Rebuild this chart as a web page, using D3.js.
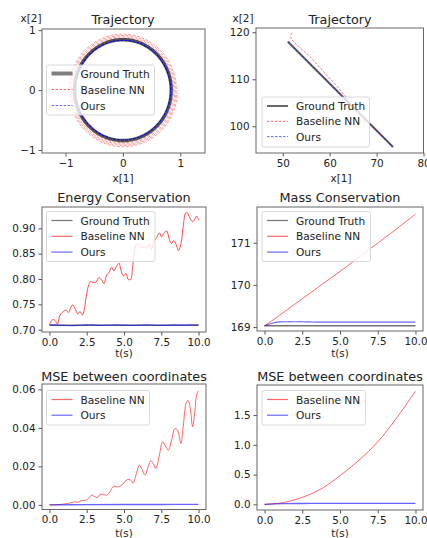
<!DOCTYPE html>
<html>
<head>
<meta charset="utf-8">
<script src="https://cdn.jsdelivr.net/npm/d3@7/dist/d3.min.js"></script>
<style>
  html, body { margin: 0; padding: 0; background: #fff; }
  svg { display: block; font-family: "DejaVu Sans", sans-serif; }
</style>
</head>
<body>
<svg id="chart" width="427" height="538"></svg>
<script>
// ---------------- DATA ----------------
const legendLabels = ["Ground Truth", "Baseline NN", "Ours"];

// Panel 1: circular trajectory (polar description: radius per lap)
const circleGroundTruthRadius = 0.842;
const circleOursRadius = 0.832;
const circleBaselineLapRadii = [0.86, 0.883, 0.906, 0.929, 0.952];

// Panel 2: linear trajectory points [x1, x2]
const lineGroundTruth = [[51.1, 118.0], [73.5, 95.6]];
const lineBaseline = [[52.0, 119.9], [51.7, 119.2], [51.9, 118.5], [52.6, 117.7], [54.0, 116.4],
  [56.0, 114.6], [58.0, 112.4], [60.0, 110.2], [62.0, 108.0], [64.0, 105.7], [66.0, 103.5],
  [68.0, 101.3], [70.0, 99.1], [72.0, 97.1], [73.5, 95.6]];
const lineOurs = [[51.1, 118.0], [56.0, 113.1], [62.0, 107.1], [68.0, 101.1], [73.5, 95.6]];

// Panel 3: energy
const energyT = [0, 0.22, 0.38, 0.54, 0.71, 0.94, 1.12, 1.27, 1.45, 1.56, 1.72, 1.90, 2.05, 2.21, 2.32,
  2.46, 2.61, 2.77, 2.95, 3.13, 3.30, 3.50, 3.66, 3.84, 4.02, 4.17, 4.33, 4.51, 4.67, 4.78, 4.96, 5.13,
  5.29, 5.45, 5.58, 5.74, 5.89, 6.03, 6.18, 6.34, 6.52, 6.67, 6.85, 7.01, 7.19, 7.37, 7.52, 7.68, 7.86,
  8.04, 8.19, 8.35, 8.53, 8.66, 8.82, 8.97, 9.13, 9.24, 9.42, 9.60, 9.75, 9.87, 10.0];
const energyBaseline = [0.711, 0.720, 0.718, 0.711, 0.729, 0.736, 0.739, 0.734, 0.745, 0.749, 0.742,
  0.731, 0.736, 0.729, 0.738, 0.764, 0.786, 0.795, 0.793, 0.794, 0.803, 0.798, 0.791, 0.808, 0.814,
  0.823, 0.816, 0.826, 0.831, 0.819, 0.806, 0.811, 0.799, 0.799, 0.824, 0.861, 0.870, 0.867, 0.861,
  0.864, 0.861, 0.868, 0.859, 0.874, 0.882, 0.891, 0.883, 0.890, 0.895, 0.878, 0.870, 0.876, 0.865,
  0.856, 0.870, 0.903, 0.930, 0.931, 0.920, 0.913, 0.918, 0.924, 0.916];
const energyT2 = [0, 0.5, 1, 1.5, 2, 2.5, 3, 3.5, 4, 4.5, 5, 5.5, 6, 6.5, 7, 7.5, 8, 8.5, 9, 9.5, 10];
const energyGroundTruth = [0.7088, 0.7088, 0.7088, 0.7088, 0.7088, 0.7088, 0.7088, 0.7088, 0.7088, 0.7088,
  0.7088, 0.7088, 0.7088, 0.7088, 0.7088, 0.7088, 0.7088, 0.7088, 0.7088, 0.7088, 0.7088];
const energyOurs = [0.7100, 0.7092, 0.7085, 0.7080, 0.7088, 0.7097, 0.7093, 0.7085, 0.7090, 0.7096,
  0.7089, 0.7084, 0.7091, 0.7097, 0.7090, 0.7084, 0.7090, 0.7096, 0.7089, 0.7095, 0.7090];

// Panel 4: mass
const massT = [0, 0.5, 1, 1.5, 2, 2.5, 3, 3.5, 4, 4.5, 5, 5.5, 6, 6.5, 7, 7.5, 8, 8.5, 9, 9.5, 10];
const massGroundTruth = [169.03, 169.03, 169.03, 169.03, 169.03, 169.03, 169.03, 169.03, 169.03, 169.03,
  169.03, 169.03, 169.03, 169.03, 169.03, 169.03, 169.03, 169.03, 169.03, 169.03, 169.03];
const massBaseline = [169.03, 169.15, 169.28, 169.41, 169.54, 169.67, 169.80, 169.93, 170.06, 170.19,
  170.32, 170.45, 170.59, 170.72, 170.86, 170.99, 171.13, 171.26, 171.40, 171.54, 171.68];
const massOurs = [169.03, 169.09, 169.12, 169.125, 169.125, 169.125, 169.12, 169.115, 169.115, 169.115,
  169.115, 169.115, 169.115, 169.115, 169.115, 169.115, 169.115, 169.115, 169.115, 169.115, 169.115];

// Panel 5: MSE (trajectory 1)
const mse1T = [0, 0.5, 1.05, 1.38, 1.72, 1.94, 2.17, 2.46, 2.61, 2.83, 3.06, 3.21, 3.39, 3.62, 3.84,
  4.06, 4.29, 4.51, 4.73, 5.0, 5.22, 5.45, 5.62, 5.80, 6.03, 6.18, 6.41, 6.63, 6.79, 6.96, 7.14, 7.37,
  7.59, 7.75, 7.97, 8.19, 8.42, 8.59, 8.82, 8.97, 9.20, 9.31, 9.46, 9.60, 9.75, 9.87, 10.0];
const mse1Baseline = [0, 0.0001, 0.0005, 0.0010, 0.0016, 0.0014, 0.0023, 0.0024, 0.0033, 0.0050,
  0.0042, 0.0038, 0.0054, 0.0055, 0.0050, 0.0068, 0.0097, 0.0094, 0.0097, 0.0114, 0.0132, 0.0128,
  0.0114, 0.0154, 0.0206, 0.0189, 0.0154, 0.0201, 0.0229, 0.0215, 0.0189, 0.0258, 0.0328, 0.0310,
  0.0284, 0.0336, 0.0397, 0.0388, 0.0319, 0.0406, 0.0536, 0.0541, 0.0492, 0.0406, 0.0484, 0.0570, 0.0593];
const mse1OursT = [0, 2.5, 5, 7.5, 10];
const mse1Ours = [0.0000, 0.0001, 0.0002, 0.0002, 0.0003];

// Panel 6: MSE (trajectory 2)
const mse2T = [0, 1.25, 2.5, 3.75, 5, 6.25, 7.5, 8.75, 10];
const mse2Baseline = [0, 0.03, 0.117, 0.26, 0.48, 0.74, 1.05, 1.45, 1.90];
const mse2Ours = [0, 0.012, 0.014, 0.015, 0.015, 0.015, 0.015, 0.015, 0.015];

const timeTicks = [0, 2.5, 5, 7.5, 10];

// ---------------- STYLE ----------------
const RED = "rgba(255,0,0,0.6)";
const BLUE = "rgba(0,0,255,0.6)";
const GT = "rgba(0,0,0,0.55)";
const TICK_FS = "10.4px", LEGEND_FS = "10.6px", TITLE_FS = "12.8px", LABEL_FS = "10.4px";

const svg = d3.select("#chart");

function panel(cfg) {
  const g = svg.append("g");
  const x = d3.scaleLinear().domain(cfg.xDomain).range([cfg.box[0], cfg.box[1]]);
  const y = d3.scaleLinear().domain(cfg.yDomain).range([cfg.box[3], cfg.box[2]]);
  const clipId = "clip" + Math.random().toString(36).slice(2);
  g.append("clipPath").attr("id", clipId).append("rect")
    .attr("x", cfg.box[0]).attr("y", cfg.box[2])
    .attr("width", cfg.box[1] - cfg.box[0]).attr("height", cfg.box[3] - cfg.box[2]);

  const plot = g.append("g").attr("clip-path", `url(#${clipId})`);
  cfg.draw(plot, x, y);

  // axes
  const xAxis = d3.axisBottom(x).tickValues(cfg.xTicks).tickFormat(cfg.xFormat).tickSizeOuter(0).tickSize(3.5).tickPadding(3);
  const yAxis = d3.axisLeft(y).tickValues(cfg.yTicks).tickFormat(cfg.yFormat).tickSizeOuter(0).tickSize(3.5).tickPadding(3);
  const gx = g.append("g").attr("transform", `translate(0,${cfg.box[3]})`).call(xAxis);
  const gy = g.append("g").attr("transform", `translate(${cfg.box[0]},0)`).call(yAxis);
  [gx, gy].forEach(a => {
    a.select(".domain").remove();
    a.selectAll("line").attr("stroke", "#555");
    a.selectAll("text").attr("fill", "#222").style("font-size", TICK_FS).style("font-family", "DejaVu Sans");
  });
  // frame
  g.append("rect").attr("x", cfg.box[0]).attr("y", cfg.box[2])
    .attr("width", cfg.box[1] - cfg.box[0]).attr("height", cfg.box[3] - cfg.box[2])
    .attr("fill", "none").attr("stroke", "#666").attr("stroke-width", 1);

  // title
  g.append("text").attr("x", cfg.titleX).attr("y", cfg.titleY).attr("text-anchor", "middle")
    .attr("dominant-baseline", "central").style("font-size", TITLE_FS).attr("fill", "#222").text(cfg.title);

  // axis labels
  (cfg.labels || []).forEach(l => {
    g.append("text").attr("x", l.x).attr("y", l.y).attr("text-anchor", "middle")
      .attr("dominant-baseline", "central").style("font-size", LABEL_FS).attr("fill", "#222").text(l.text);
  });

  // legend
  const L = cfg.legend;
  const lg = g.append("g");
  lg.append("rect").attr("x", L.x).attr("y", L.y).attr("width", L.w).attr("height", L.h)
    .attr("rx", 2).attr("fill", "rgba(255,255,255,0.8)").attr("stroke", "#cfcfcf").attr("stroke-width", 0.8);
  L.items.forEach((it, i) => {
    const yy = L.y + L.first + i * L.step;
    lg.append("line").attr("x1", L.x + 5).attr("x2", L.x + 26).attr("y1", yy).attr("y2", yy)
      .attr("stroke", it.color).attr("stroke-width", it.width).attr("stroke-dasharray", it.dash || null);
    lg.append("text").attr("x", L.x + 34).attr("y", yy).attr("dominant-baseline", "central")
      .style("font-size", LEGEND_FS).attr("fill", "#222").text(it.label);
  });
}

const lineGen = (x, y) => d3.line().x(d => x(d[0])).y(d => y(d[1])).curve(d3.curveCatmullRom);
const zip = (a, b) => a.map((v, i) => [v, b[i]]);

// ---------- Panel 1 ----------
panel({
  box: [42, 205, 29, 153],
  xDomain: [-1.41, 1.43], yDomain: [-1.05, 1.02],
  xTicks: [-1, 0, 1], yTicks: [-1, 0, 1],
  xFormat: d => d < 0 ? "\u2212" + Math.abs(d) : d, yFormat: d => d < 0 ? "\u2212" + Math.abs(d) : d,
  title: "Trajectory", titleX: 123, titleY: 19,
  labels: [{ text: "x[2]", x: 31, y: 18 }, { text: "x[1]", x: 123, y: 178 }],
  draw: (p, x, y) => {
    const ring = r => d3.range(0, 361, 3).map(a => [r * Math.cos(a * Math.PI / 180), r * Math.sin(a * Math.PI / 180)]);
    // baseline spiral through lap radii
    const spiral = [];
    for (let k = 0; k < circleBaselineLapRadii.length - 1; k++) {
      const r0 = circleBaselineLapRadii[k], r1 = circleBaselineLapRadii[k + 1];
      for (let a = 0; a < 360; a += 3) {
        const r = r0 + (r1 - r0) * a / 360;
        spiral.push([r * Math.cos(a * Math.PI / 180), r * Math.sin(a * Math.PI / 180)]);
      }
    }
    const lin = d3.line().x(d => x(d[0])).y(d => y(d[1]));
    p.append("path").attr("d", lin(spiral)).attr("fill", "none").attr("stroke", "rgba(255,0,0,0.5)")
      .attr("stroke-width", 0.8).attr("stroke-dasharray", "3,1.5");
    p.append("path").attr("d", lin(ring(circleGroundTruthRadius))).attr("fill", "none")
      .attr("stroke", "rgba(20,20,20,0.72)").attr("stroke-width", 3.4);
    p.append("path").attr("d", lin(ring(circleOursRadius))).attr("fill", "none").attr("stroke", "rgba(0,0,255,0.85)")
      .attr("stroke-width", 1.1).attr("stroke-dasharray", "3,1");
  },
  legend: { x: 46.5, y: 65, w: 108, h: 50, first: 8.5, step: 16,
    items: [
      { label: legendLabels[0], color: "rgba(0,0,0,0.5)", width: 4 },
      { label: legendLabels[1], color: RED, width: 1, dash: "2.5,1.5" },
      { label: legendLabels[2], color: BLUE, width: 1, dash: "2.5,1.5" }] }
});

// ---------- Panel 2 ----------
panel({
  box: [256, 423.5, 28, 153],
  xDomain: [44.3, 80.0], yDomain: [94.32, 120.91],
  xTicks: [50, 60, 70, 80], yTicks: [100, 110, 120],
  xFormat: d3.format("d"), yFormat: d3.format("d"),
  title: "Trajectory", titleX: 340, titleY: 19,
  labels: [{ text: "x[2]", x: 243, y: 18 }, { text: "x[1]", x: 341, y: 178 }],
  draw: (p, x, y) => {
    const lin = d3.line().x(d => x(d[0])).y(d => y(d[1]));
    p.append("path").attr("d", lin(lineGroundTruth)).attr("fill", "none").attr("stroke", "rgba(0,0,0,0.6)").attr("stroke-width", 2.2);
    p.append("path").attr("d", lineGen(x, y)(lineBaseline)).attr("fill", "none").attr("stroke", RED)
      .attr("stroke-width", 0.9).attr("stroke-dasharray", "2.5,1.5");
    p.append("path").attr("d", lin(lineOurs)).attr("fill", "none").attr("stroke", "rgba(0,0,255,0.7)")
      .attr("stroke-width", 1).attr("stroke-dasharray", "2.5,1.5");
  },
  legend: { x: 262, y: 97, w: 107.5, h: 50, first: 9, step: 15.3,
    items: [
      { label: legendLabels[0], color: "rgba(0,0,0,0.6)", width: 2 },
      { label: legendLabels[1], color: RED, width: 1, dash: "2.5,1.5" },
      { label: legendLabels[2], color: BLUE, width: 1, dash: "2.5,1.5" }] }
});

// ---------- Panel 3 ----------
panel({
  box: [42, 206, 207, 332],
  xDomain: [-0.5, 10.5], yDomain: [0.6955, 0.942],
  xTicks: timeTicks, yTicks: [0.70, 0.75, 0.80, 0.85, 0.90],
  xFormat: d3.format(".1f"), yFormat: d3.format(".2f"),
  title: "Energy Conservation", titleX: 124, titleY: 197,
  labels: [{ text: "t(s)", x: 124, y: 353 }],
  draw: (p, x, y) => {
    p.append("path").attr("d", lineGen(x, y)(zip(energyT2, energyGroundTruth))).attr("fill", "none").attr("stroke", GT).attr("stroke-width", 1.5);
    p.append("path").attr("d", lineGen(x, y)(zip(energyT, energyBaseline))).attr("fill", "none").attr("stroke", "rgba(255,0,0,0.7)").attr("stroke-width", 1);
    p.append("path").attr("d", lineGen(x, y)(zip(energyT2, energyOurs))).attr("fill", "none").attr("stroke", BLUE).attr("stroke-width", 1.2);
  },
  legend: { x: 46.5, y: 211.5, w: 108.5, h: 50, first: 9, step: 15.8,
    items: [
      { label: legendLabels[0], color: GT, width: 1.2 },
      { label: legendLabels[1], color: RED, width: 1.2 },
      { label: legendLabels[2], color: BLUE, width: 1.2 }] }
});

// ---------- Panel 4 ----------
panel({
  box: [257, 423, 207, 331],
  xDomain: [-0.5, 10.5], yDomain: [168.905, 171.85],
  xTicks: timeTicks, yTicks: [169, 170, 171],
  xFormat: d3.format(".1f"), yFormat: d3.format("d"),
  title: "Mass Conservation", titleX: 340, titleY: 197,
  labels: [{ text: "t(s)", x: 340, y: 353 }],
  draw: (p, x, y) => {
    p.append("path").attr("d", lineGen(x, y)(zip(massT, massGroundTruth))).attr("fill", "none").attr("stroke", GT).attr("stroke-width", 1.3);
    p.append("path").attr("d", lineGen(x, y)(zip(massT, massBaseline))).attr("fill", "none").attr("stroke", RED).attr("stroke-width", 1);
    p.append("path").attr("d", lineGen(x, y)(zip(massT, massOurs))).attr("fill", "none").attr("stroke", BLUE).attr("stroke-width", 1.2);
  },
  legend: { x: 262, y: 211.5, w: 108.5, h: 50, first: 9, step: 15.8,
    items: [
      { label: legendLabels[0], color: GT, width: 1.2 },
      { label: legendLabels[1], color: RED, width: 1.2 },
      { label: legendLabels[2], color: BLUE, width: 1.2 }] }
});

// ---------- Panel 5 ----------
panel({
  box: [42, 206, 384, 509.5],
  xDomain: [-0.5, 10.5], yDomain: [-0.0024, 0.0628],
  xTicks: timeTicks, yTicks: [0, 0.02, 0.04, 0.06],
  xFormat: d3.format(".1f"), yFormat: d3.format(".2f"),
  title: "MSE between coordinates", titleX: 124, titleY: 376,
  labels: [{ text: "t(s)", x: 124, y: 533 }],
  draw: (p, x, y) => {
    p.append("path").attr("d", lineGen(x, y)(zip(mse1T, mse1Baseline))).attr("fill", "none").attr("stroke", RED).attr("stroke-width", 1);
    p.append("path").attr("d", lineGen(x, y)(zip(mse1OursT, mse1Ours))).attr("fill", "none").attr("stroke", BLUE).attr("stroke-width", 1.3);
  },
  legend: { x: 46.5, y: 390.5, w: 103, h: 34.5, first: 9, step: 15.7,
    items: [
      { label: legendLabels[1], color: RED, width: 1.2 },
      { label: legendLabels[2], color: BLUE, width: 1.2 }] }
});

// ---------- Panel 6 ----------
panel({
  box: [257, 423, 385, 510],
  xDomain: [-0.5, 10.5], yDomain: [-0.095, 2.005],
  xTicks: timeTicks, yTicks: [0, 0.5, 1.0, 1.5],
  xFormat: d3.format(".1f"), yFormat: d3.format(".1f"),
  title: "MSE between coordinates", titleX: 340, titleY: 376,
  labels: [{ text: "t(s)", x: 340, y: 533 }],
  draw: (p, x, y) => {
    p.append("path").attr("d", lineGen(x, y)(zip(mse2T, mse2Baseline))).attr("fill", "none").attr("stroke", RED).attr("stroke-width", 1);
    p.append("path").attr("d", lineGen(x, y)(zip(mse2T, mse2Ours))).attr("fill", "none").attr("stroke", BLUE).attr("stroke-width", 1.3);
  },
  legend: { x: 262, y: 390.5, w: 103.5, h: 34.5, first: 9, step: 15.7,
    items: [
      { label: legendLabels[1], color: RED, width: 1.2 },
      { label: legendLabels[2], color: BLUE, width: 1.2 }] }
});
</script>
</body>
</html>
